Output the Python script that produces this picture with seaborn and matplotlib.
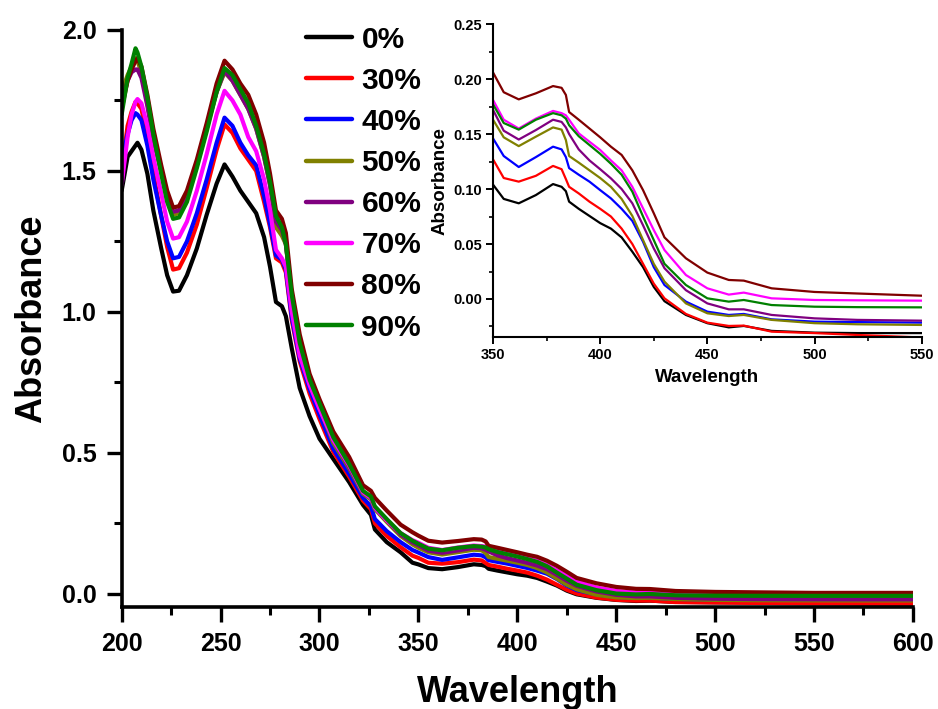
import numpy as np
import pandas as pd
import matplotlib
matplotlib.use("Agg")
import matplotlib.pyplot as plt
from matplotlib.lines import Line2D
from matplotlib.ticker import MultipleLocator
import seaborn as sns

# ---------------- data ----------------
wavelength = [200, 203, 205, 207, 208, 210, 213, 216, 220, 223, 226, 229, 233, 238, 243, 248,
              252, 256, 260, 264, 268, 272, 275, 278, 281, 283, 286, 290, 295, 300, 307, 315,
              322, 326, 328, 334, 341, 347, 350, 355, 362, 370, 378, 382, 384, 385.5, 390, 395,
              400, 405, 410, 415, 420, 425, 430, 440, 450, 460, 467, 480, 500, 520, 550, 575, 600]

labels = ["0%", "30%", "40%", "50%", "60%", "70%", "80%", "90%"]
colors = ["#000000", "#FF0000", "#0000FF", "#808000", "#800080", "#FF00FF", "#800000", "#008000"]

abs_0 = [1.43, 1.55, 1.57, 1.59, 1.60, 1.575, 1.49, 1.36, 1.225, 1.13, 1.072, 1.075, 1.13, 1.225, 1.345, 1.455,
         1.523, 1.48, 1.43, 1.39, 1.35, 1.265, 1.16, 1.035, 1.02, 0.985, 0.87, 0.73, 0.63, 0.55, 0.478, 0.396,
         0.315, 0.28, 0.228, 0.183, 0.147, 0.11, 0.104, 0.091, 0.087, 0.0945, 0.1045, 0.102, 0.098, 0.0885, 0.082, 0.0755,
         0.069, 0.064, 0.056, 0.043, 0.029, 0.011, -0.002, -0.0145, -0.022, -0.0258, -0.0245, -0.029, -0.0306, -0.031, -0.031, -0.031, -0.031]

abs_30 = [1.50, 1.66, 1.71, 1.745, 1.74, 1.72, 1.62, 1.49, 1.34, 1.23, 1.15, 1.155, 1.21, 1.31, 1.44, 1.575,
          1.665, 1.635, 1.58, 1.54, 1.50, 1.39, 1.30, 1.19, 1.175, 1.14, 0.97, 0.825, 0.71, 0.62, 0.503, 0.415,
          0.33, 0.30, 0.25, 0.205, 0.165, 0.135, 0.127, 0.11, 0.1067, 0.112, 0.121, 0.118, 0.109, 0.102, 0.096, 0.0885,
          0.082, 0.075, 0.064, 0.050, 0.032, 0.014, 0.0006, -0.0136, -0.0215, -0.0245, -0.0242, -0.0297, -0.031, -0.0327, -0.035, -0.036, -0.037]

abs_40 = [1.53, 1.63, 1.68, 1.705, 1.70, 1.68, 1.59, 1.47, 1.34, 1.25, 1.19, 1.195, 1.25, 1.35, 1.47, 1.60,
          1.689, 1.66, 1.60, 1.555, 1.52, 1.41, 1.31, 1.20, 1.185, 1.15, 0.98, 0.835, 0.725, 0.635, 0.514, 0.425,
          0.34, 0.31, 0.265, 0.222, 0.183, 0.155, 0.146, 0.13, 0.120, 0.129, 0.1385, 0.136, 0.129, 0.119, 0.113, 0.1067,
          0.099, 0.0915, 0.082, 0.071, 0.052, 0.029, 0.0127, -0.0024, -0.0115, -0.0145, -0.0136, -0.0185, -0.0206, -0.021, -0.0215, -0.022, -0.022]

abs_50 = [1.78, 1.84, 1.87, 1.90, 1.89, 1.85, 1.74, 1.62, 1.50, 1.40, 1.345, 1.35, 1.41, 1.52, 1.65, 1.78,
          1.85, 1.82, 1.77, 1.72, 1.65, 1.55, 1.45, 1.30, 1.27, 1.24, 1.06, 0.88, 0.75, 0.66, 0.535, 0.445,
          0.355, 0.335, 0.30, 0.255, 0.205, 0.175, 0.163, 0.147, 0.139, 0.1476, 0.156, 0.154, 0.1445, 0.130, 0.124, 0.117,
          0.11, 0.102, 0.091, 0.0755, 0.0536, 0.032, 0.0158, -0.004, -0.013, -0.0155, -0.0145, -0.019, -0.022, -0.023, -0.0236, -0.024, -0.024]

abs_60 = [1.74, 1.82, 1.85, 1.86, 1.86, 1.83, 1.73, 1.61, 1.50, 1.41, 1.355, 1.36, 1.42, 1.53, 1.66, 1.78,
          1.855, 1.82, 1.77, 1.72, 1.65, 1.55, 1.45, 1.32, 1.29, 1.24, 1.05, 0.885, 0.755, 0.665, 0.545, 0.45,
          0.36, 0.34, 0.305, 0.26, 0.21, 0.182, 0.172, 0.153, 0.145, 0.1536, 0.163, 0.161, 0.156, 0.150, 0.136, 0.126,
          0.118, 0.1097, 0.100, 0.087, 0.067, 0.046, 0.028, 0.008, -0.004, -0.0094, -0.0094, -0.0145, -0.0176, -0.019, -0.0197, -0.02, -0.02]

abs_70 = [1.45, 1.62, 1.70, 1.745, 1.755, 1.74, 1.66, 1.55, 1.42, 1.32, 1.26, 1.265, 1.32, 1.43, 1.56, 1.70,
          1.784, 1.75, 1.70, 1.62, 1.57, 1.47, 1.36, 1.22, 1.19, 1.16, 1.00, 0.845, 0.74, 0.655, 0.545, 0.455,
          0.36, 0.34, 0.305, 0.26, 0.215, 0.19, 0.181, 0.163, 0.155, 0.164, 0.171, 0.169, 0.167, 0.163, 0.1506, 0.143,
          0.1355, 0.126, 0.117, 0.102, 0.0824, 0.0627, 0.0445, 0.0218, 0.0097, 0.004, 0.0058, 0.0006, -0.0009, -0.0012, -0.0015, -0.0015, -0.0015]

abs_80 = [1.72, 1.82, 1.86, 1.89, 1.90, 1.87, 1.77, 1.65, 1.52, 1.43, 1.37, 1.375, 1.43, 1.54, 1.67, 1.81,
          1.891, 1.86, 1.81, 1.77, 1.70, 1.60, 1.49, 1.36, 1.33, 1.28, 1.08, 0.92, 0.78, 0.69, 0.575, 0.485,
          0.385, 0.365, 0.34, 0.295, 0.245, 0.218, 0.206, 0.188, 0.1815, 0.187, 0.1936, 0.192, 0.1855, 0.170, 0.163, 0.155,
          0.147, 0.1385, 0.131, 0.117, 0.099, 0.078, 0.056, 0.037, 0.024, 0.0173, 0.0167, 0.0097, 0.0064, 0.005, 0.003, 0.003, 0.003]

abs_90 = [1.70, 1.83, 1.88, 1.935, 1.92, 1.87, 1.76, 1.63, 1.49, 1.39, 1.33, 1.335, 1.39, 1.51, 1.64, 1.78,
          1.865, 1.84, 1.79, 1.74, 1.66, 1.56, 1.46, 1.34, 1.30, 1.24, 1.06, 0.89, 0.76, 0.675, 0.555, 0.46,
          0.365, 0.345, 0.31, 0.265, 0.215, 0.188, 0.177, 0.160, 0.154, 0.163, 0.169, 0.167, 0.164, 0.158, 0.148, 0.140,
          0.132, 0.123, 0.113, 0.0976, 0.075, 0.0536, 0.032, 0.0127, 0.0006, -0.0024, -0.0009, -0.0055, -0.007, -0.0074, -0.0076, -0.0076, -0.0076]

series = [abs_0, abs_30, abs_40, abs_50, abs_60, abs_70, abs_80, abs_90]

main_xticks = [200, 250, 300, 350, 400, 450, 500, 550, 600]
main_yticks = [0.0, 0.5, 1.0, 1.5, 2.0]
inset_xticks = [350, 400, 450, 500, 550]
inset_yticks = [0.00, 0.05, 0.10, 0.15, 0.20, 0.25]

df = pd.concat([pd.DataFrame({"Wavelength": wavelength, "Absorbance": s, "conc": lab})
                for s, lab in zip(series, labels)], ignore_index=True)
palette = dict(zip(labels, colors))

# ---------------- style ----------------
sns.set_theme(style="ticks")
plt.rcParams["font.family"] = ["Liberation Sans", "DejaVu Sans"]
plt.rcParams["font.weight"] = "bold"
plt.rcParams["axes.labelweight"] = "bold"
plt.rcParams["text.color"] = "black"
plt.rcParams["axes.labelcolor"] = "black"
plt.rcParams["xtick.color"] = "black"
plt.rcParams["ytick.color"] = "black"
plt.rcParams["lines.solid_capstyle"] = "round"
plt.rcParams["lines.solid_joinstyle"] = "round"

fig = plt.figure(figsize=(9.38, 7.09), dpi=100)
fig.patch.set_facecolor("white")

ax = fig.add_axes([0.1297, 0.1443, 0.8436, 0.8134])
sns.lineplot(data=df, x="Wavelength", y="Absorbance", hue="conc", hue_order=labels,
             palette=palette, estimator=None, sort=False, linewidth=3.0, ax=ax, legend=False)
ax.set_xlim(200, 600)
ax.set_ylim(-0.046, 2.0)
ax.set_xticks(main_xticks)
ax.set_yticks(main_yticks)
ax.set_xticklabels([str(t) for t in main_xticks])
ax.set_yticklabels([f"{t:.1f}" for t in main_yticks])
ax.xaxis.set_minor_locator(MultipleLocator(25))
ax.yaxis.set_minor_locator(MultipleLocator(0.25))
for s in ["top", "right"]:
    ax.spines[s].set_visible(False)
for s in ["left", "bottom"]:
    ax.spines[s].set_linewidth(2.6)
    ax.spines[s].set_color("black")
ax.tick_params(which="major", direction="out", length=11, width=2.4, labelsize=18, pad=7,
               colors="black", labelcolor="black")
ax.tick_params(which="minor", direction="out", length=6, width=2.2, colors="black")
for t in ax.get_xticklabels() + ax.get_yticklabels():
    t.set_fontweight("bold")
ax.set_xlabel("Wavelength", fontsize=26, fontweight="bold", labelpad=14, color="black")
ax.set_ylabel("Absorbance", fontsize=26, fontweight="bold", labelpad=9, color="black")
ax.set_facecolor("white")

handles = [Line2D([0], [0], color=c, lw=3.2) for c in colors]
leg = fig.legend(handles, labels, loc="upper left", bbox_to_anchor=(0.3105, 0.985),
                 frameon=False, prop={"size": 21.5, "weight": "bold"},
                 handlelength=1.55, handletextpad=0.3, labelspacing=0.44, borderpad=0)
for t in leg.get_texts():
    t.set_color("black")

# ---------------- inset ----------------
ins = fig.add_axes([0.5256, 0.5243, 0.4570, 0.4418])
sns.lineplot(data=df, x="Wavelength", y="Absorbance", hue="conc", hue_order=labels,
             palette=palette, estimator=None, sort=False, linewidth=1.6, ax=ins, legend=False)
ins.set_xlim(350, 550)
ins.set_ylim(-0.0348, 0.25)
ins.set_xticks(inset_xticks)
ins.set_yticks(inset_yticks)
ins.set_xticklabels([str(t) for t in inset_xticks])
ins.set_yticklabels([f"{t:.2f}" for t in inset_yticks])
ins.xaxis.set_minor_locator(MultipleLocator(25))
ins.yaxis.set_minor_locator(MultipleLocator(0.025))
for s in ["top", "right"]:
    ins.spines[s].set_visible(False)
for s in ["left", "bottom"]:
    ins.spines[s].set_linewidth(1.5)
    ins.spines[s].set_color("black")
ins.tick_params(which="major", direction="out", length=5, width=1.4, labelsize=10.5, pad=3,
                colors="black", labelcolor="black")
ins.tick_params(which="minor", direction="out", length=3, width=1.2, colors="black")
for t in ins.get_xticklabels() + ins.get_yticklabels():
    t.set_fontweight("bold")
ins.set_xlabel("Wavelength", fontsize=13.5, fontweight="bold", labelpad=5, color="black")
ins.set_ylabel("Absorbance", fontsize=13.5, fontweight="bold", labelpad=3, color="black")
ins.set_facecolor("white")

fig.savefig("out.png", dpi=100, facecolor="white")
